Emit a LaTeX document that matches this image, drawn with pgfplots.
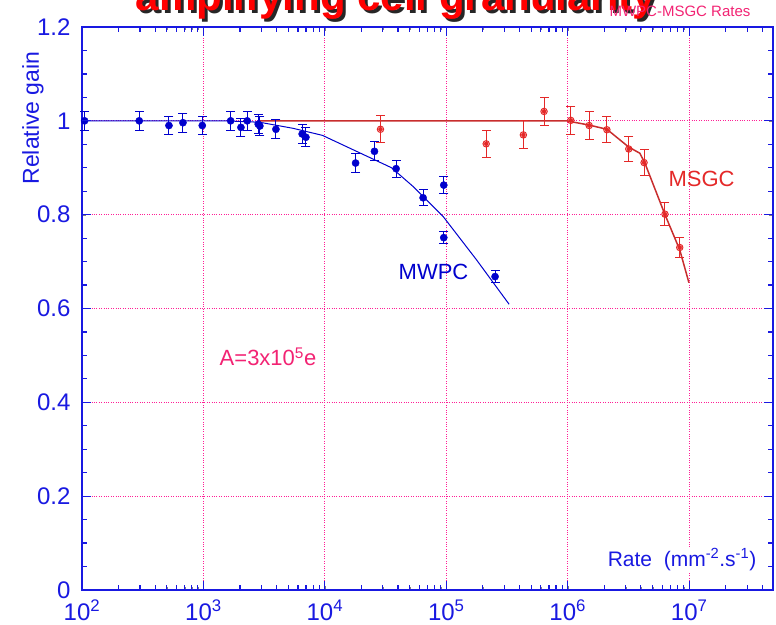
\documentclass[border=0pt]{standalone}
\usepackage{fontspec}
\setmainfont{Liberation Sans}
\usepackage{pgfplots}
\usepackage{pgfplotstable}
\pgfplotsset{compat=1.18}
\definecolor{axblue}{RGB}{25,25,225}
\definecolor{ptblue}{RGB}{0,0,205}
\definecolor{gridpink}{RGB}{255,30,150}
\definecolor{msred}{RGB}{228,40,40}
\definecolor{fitred}{RGB}{200,45,45}
\definecolor{labpink}{RGB}{242,35,115}

\pgfplotstableread{
x y e
105 1.000 0.02
296 1.000 0.02
520 0.990 0.02
678 0.996 0.02
978 0.990 0.02
1675 1.000 0.02
2036 0.986 0.02
2292 1.000 0.02
2825 0.993 0.02
2916 0.989 0.02
3953 0.982 0.02
6500 0.972 0.02
6980 0.965 0.02
17900 0.910 0.02
25600 0.935 0.02
38600 0.898 0.018
64400 0.836 0.017
95300 0.863 0.018
95300 0.751 0.013
252000 0.668 0.013
}\mwpc

\pgfplotstableread{
x y e
28700 0.982 0.029
213000 0.951 0.029
431000 0.970 0.030
638000 1.020 0.030
1060000 1.001 0.030
1500000 0.990 0.030
2100000 0.981 0.028
3180000 0.940 0.027
4250000 0.911 0.027
6320000 0.801 0.025
8360000 0.730 0.022
}\msgc

\pgfplotstableread{
x y
100 1.000
1500 1.000
2900 0.997
5480 0.984
9550 0.969
35400 0.900
53300 0.860
94200 0.796
177000 0.704
329000 0.609
}\mwpcfit

\pgfplotstableread{
x y
2900 1.000
975000 1.000
1500000 0.991
2100000 0.982
3180000 0.944
3920000 0.931
4300000 0.911
6320000 0.800
8360000 0.725
9950000 0.655
}\msgcfit

\begin{document}
\begin{tikzpicture}
\begin{axis}[
  at={(0pt,0pt)}, anchor=south west,
  scale only axis, width=691pt, height=563pt,
  xmode=log, xmin=100, xmax=4.9e7, ymin=0, ymax=1.2,
  axis line style={axblue, line width=1.1pt},
  xtick={1e2,1e3,1e4,1e5,1e6,1e7},
  xticklabels={10\textsuperscript{2},10\textsuperscript{3},10\textsuperscript{4},10\textsuperscript{5},10\textsuperscript{6},10\textsuperscript{7}},
  minor xtick={},
  ytick={0,0.2,0.4,0.6,0.8,1,1.2},
  yticklabels={0,0.2,0.4,0.6,0.8,1,1.2},
  xmajorgrids=true, ymajorgrids=true,
  major grid style={gridpink, dotted, line width=0.9pt},
  tick label style={font=\fontsize{24}{24}\selectfont, text=axblue},
  yticklabel style={xshift=-8pt},
  xticklabel style={yshift=-6pt},
  clip=false,
]
\addplot[ptblue, line width=1pt] table[x=x,y=y] {\mwpcfit};
\addplot[fitred, line width=1.5pt] table[x=x,y=y] {\msgcfit};
% error bars
\addplot[only marks, mark=none, color=ptblue,
  error bars/.cd, y dir=both, y explicit, error mark=none,
  error bar style={line width=1pt, ptblue}]
  table[x=x,y=y,y error=e] {\mwpc};
\addplot[only marks, mark=none, color=msred,
  error bars/.cd, y dir=both, y explicit, error mark=none,
  error bar style={line width=1pt, msred}]
  table[x=x,y=y,y error=e] {\msgc};
% error bar caps
\addplot[only marks, mark=-, mark size=4.5pt, color=ptblue, mark options={line width=1pt}]
  table[x=x, y expr=\thisrow{y}+\thisrow{e}] {\mwpc};
\addplot[only marks, mark=-, mark size=4.5pt, color=ptblue, mark options={line width=1pt}]
  table[x=x, y expr=\thisrow{y}-\thisrow{e}] {\mwpc};
\addplot[only marks, mark=-, mark size=4.5pt, color=msred, mark options={line width=1pt}]
  table[x=x, y expr=\thisrow{y}+\thisrow{e}] {\msgc};
\addplot[only marks, mark=-, mark size=4.5pt, color=msred, mark options={line width=1pt}]
  table[x=x, y expr=\thisrow{y}-\thisrow{e}] {\msgc};
% points
\addplot[only marks, mark=*, color=ptblue, mark size=3.6pt] table[x=x,y=y] {\mwpc};
\addplot[only marks, mark=o, color=msred, mark size=3.2pt, mark options={line width=1pt}] table[x=x,y=y] {\msgc};
\end{axis}
% tick marks on the frame (inside)
\foreach \d in {0,...,5}{
  \foreach \m in {1,...,9}{
    \pgfmathsetmacro\xx{(\d+log10(\m))*691/5.690196}
    \pgfmathsetmacro\tl{ifthenelse(\m==1,9,5)}
    \ifdim\xx pt<690pt
      \draw[axblue, line width=1.2pt] (\xx pt,0pt) -- ++(0pt,\tl pt);
      \draw[axblue, line width=1.2pt] (\xx pt,563pt) -- ++(0pt,-\tl pt);
    \fi
  }
}
\foreach \k in {1,...,23}{
  \pgfmathsetmacro\yy{\k*563/24}
  \pgfmathsetmacro\tl{ifthenelse(mod(\k,4)==0,9,5)}
  \draw[axblue, line width=1.2pt] (0pt,\yy pt) -- ++(\tl pt,0pt);
  \draw[axblue, line width=1.2pt] (691pt,\yy pt) -- ++(-\tl pt,0pt);
}
\node[anchor=base, text=ptblue, font=\fontsize{22}{22}\selectfont] at (351.5pt,310pt) {MWPC};
\node[anchor=base, text=msred, font=\fontsize{22}{22}\selectfont] at (619.5pt,403pt) {MSGC};
\node[anchor=base, text=labpink, font=\fontsize{22}{22}\selectfont] at (186pt,224pt) {A=3x10\textsuperscript{5}e};
\node[anchor=base, fill=white, inner sep=1pt, text=axblue, font=\fontsize{21}{21}\selectfont] at (600pt,24pt) {Rate\ \ (mm\textsuperscript{-2}.s\textsuperscript{-1})};
\node[rotate=90, text=axblue, font=\fontsize{23}{23}\selectfont] at (-49pt,472pt) {Relative gain};
% title (cut off at top)
\node[anchor=base, text=black!85, font=\fontsize{42}{42}\bfseries\selectfont] at (317pt,576pt) {amplifying cell granularity};
\node[anchor=base, text=red, font=\fontsize{42}{42}\bfseries\selectfont] at (314pt,579pt) {amplifying cell granularity};
\node[anchor=base, text=labpink, font=\fontsize{15}{15}\selectfont] at (598pt,573pt) {MWPC-MSGC Rates};
\pgfresetboundingbox
\useasboundingbox (-82pt,-34pt) rectangle (694pt,590pt);
\end{tikzpicture}
\end{document}
